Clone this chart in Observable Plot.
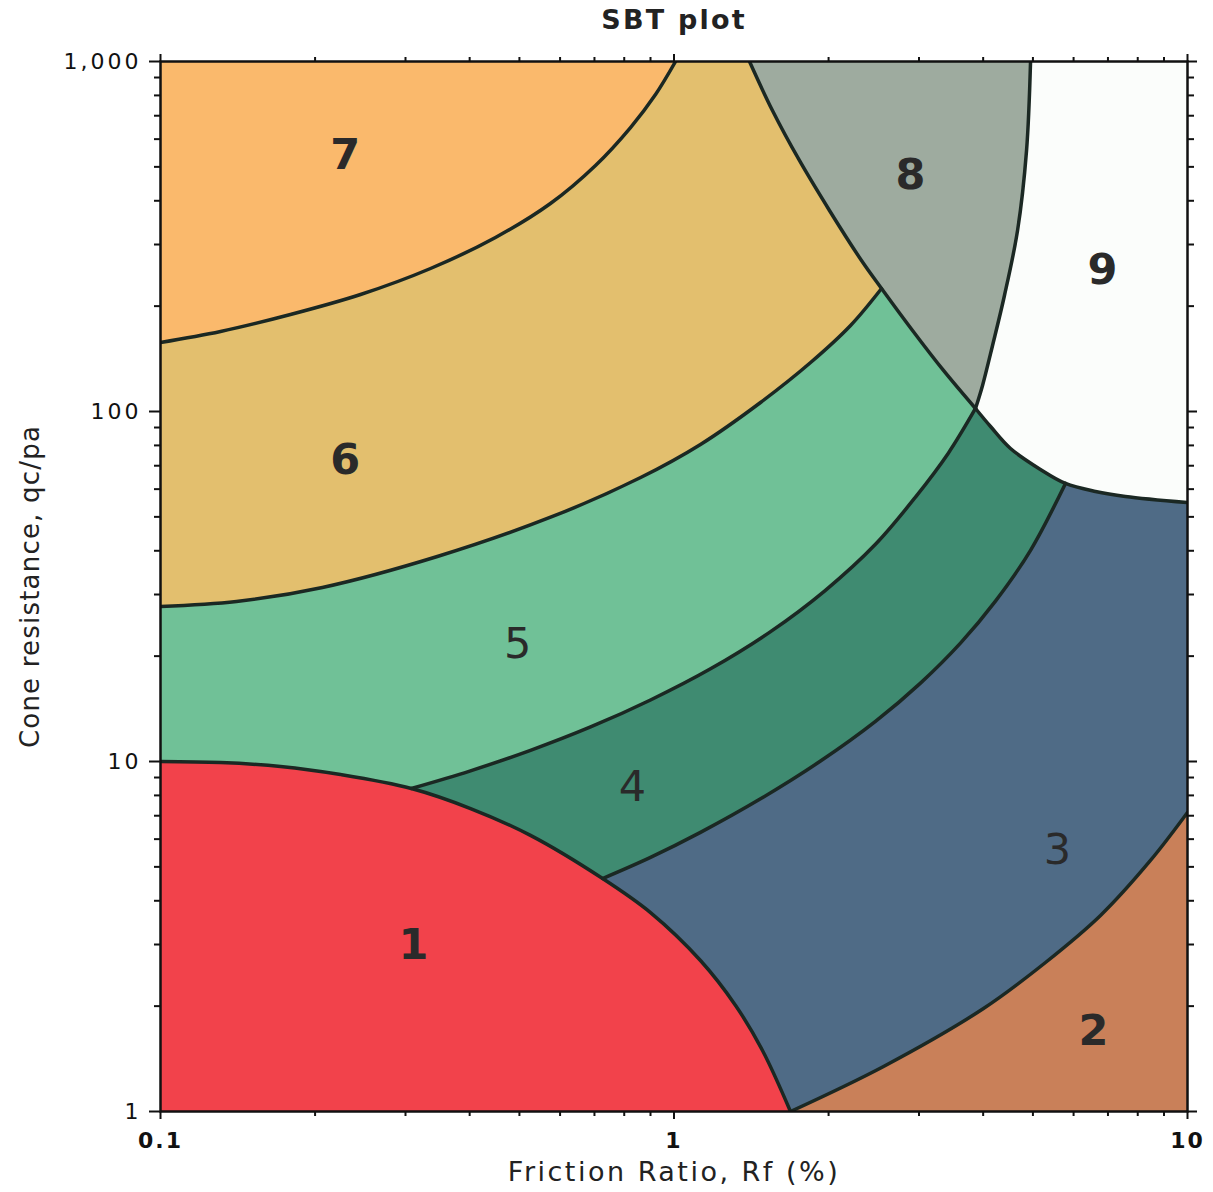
<!DOCTYPE html>
<html>
<head>
<meta charset="utf-8">
<script src="https://cdn.jsdelivr.net/npm/d3@7"></script>
<script src="https://cdn.jsdelivr.net/npm/@observablehq/plot@0.6"></script>
<style>
  html, body { margin: 0; padding: 0; background: #ffffff; }
  #chart { width: 1213px; height: 1192px; }
</style>
</head>
<body>
<div id="chart"></div>
<script>
// ---- Boundary curves: [Friction ratio Rf (%), qc/pa] ----
const b76 = [[0.1,157.5],[0.1309,169.3],[0.1791,189.3],[0.2452,215.9],[0.3356,256.2],[0.4491,314.2],[0.5746,392.9],[0.7033,504.6],[0.8228,647.7],[0.9205,804.6],[1.007,1000]];
const b65 = [[0.1,27.73],[0.1406,28.65],[0.2067,31.42],[0.346,38.52],[0.580,50.12],[0.861,64.77],[1.126,80.5],[1.474,106.1],[1.845,138.0],[2.207,176.1],[2.536,224.6]];
const b68 = [[1.403,1000],[1.555,724.4],[1.755,521.4],[2.008,375.3],[2.318,270.0],[2.536,224.6]];
const b58 = [[2.536,224.6],[2.914,170.4],[3.348,131.0],[3.865,102.0]];
const b89 = [[4.947,1000],[4.859,556.8],[4.667,328.9],[4.401,214.5],[4.172,154.4],[3.989,118.7],[3.865,102.0]];
const b94 = [[3.865,102.0],[4.135,90.6],[4.522,78.4],[5.172,68.3],[5.786,62.3]];
const b93 = [[5.786,62.3],[6.62,59.1],[7.57,57.2],[10,54.95]];
const b15 = [[0.1,10],[0.1309,9.93],[0.1713,9.68],[0.2241,9.18],[0.308,8.375]];
const b14 = [[0.308,8.375],[0.4016,7.34],[0.5254,6.15],[0.726,4.63]];
const b13 = [[0.726,4.63],[0.900,3.70],[1.126,2.70],[1.318,2.009],[1.487,1.494],[1.686,1]];
const b54 = [[0.308,8.375],[0.4015,9.407],[0.5254,10.76],[0.6879,12.55],[0.900,14.99],[1.178,18.40],[1.542,23.50],[1.972,30.84],[2.468,41.74],[2.953,56.94],[3.424,76.15],[3.865,102.0]];
const b43 = [[0.726,4.63],[0.900,5.321],[1.126,6.273],[1.474,7.823],[1.929,10.03],[2.468,13.02],[3.02,16.75],[3.613,21.79],[4.227,28.72],[4.947,40.13],[5.786,62.3]];
const b32 = [[1.686,1],[2.559,1.345],[4.006,1.969],[5.29,2.665],[6.77,3.631],[8.47,5.214],[10,7.15]];

// ---- Zones ----
const zoneIds    = ["1","2","3","4","5","6","7","8","9"];
const zoneColors = ["#f2424b","#c98059","#4f6b86","#3f8b71","#70c197","#e3bf6e","#fab96c","#9eab9f","#fbfdfb"];
const labelRf    = [0.311, 6.56, 5.58, 0.830, 0.496, 0.229, 0.229, 2.888, 6.83];
const labelQc    = [2.98, 1.70, 5.57, 8.43, 21.7, 72.4, 539, 472, 253];
const labelBold  = [true, true, false, false, false, true, true, true, true];

// ---- Axes ----
const xTicks = [0.1, 1, 10];
const xTickLabels = ["0.1", "1", "10"];
const yTicks = [1, 10, 100, 1000];
const yTickLabels = ["1", "10", "100", "1,000"];
const xMinor = [0.2,0.3,0.4,0.5,0.6,0.7,0.8,0.9,2,3,4,5,6,7,8,9];
const yMinor = [2,3,4,5,6,7,8,9,20,30,40,50,60,70,80,90,200,300,400,500,600,700,800,900];
const titleText = "SBT plot";
const xLabel = "Friction Ratio, Rf (%)";
const yLabel = "Cone resistance, qc/pa";

const rev = a => a.slice().reverse();
const polygons = {
  "7": [[0.1,1000], ...b76],
  "6": [...b65, ...rev(b68), ...rev(b76)],
  "8": [...b68, ...b58, ...rev(b89)],
  "9": [...b89, ...b94, ...b93, [10,1000]],
  "5": [...b15, ...b54, ...rev(b58), ...rev(b65)],
  "4": [...b14, ...b43, ...rev(b94), ...rev(b54)],
  "3": [...b13, ...b32, [10,54.95], ...rev(b93), ...rev(b43)],
  "2": [...b32, [10,1]],
  "1": [[0.1,1], ...b15, ...b14, ...b13]
};
const boundaries = [
  b76, b65, b54, b43, b32, b89,
  [...b68, ...b58.slice(1)],
  [...b94, ...b93.slice(1)],
  [...b15, ...b14.slice(1), ...b13.slice(1)]
];

const labels = zoneIds.map((id, i) => ({id, rf: labelRf[i], qc: labelQc[i], bold: labelBold[i]}));

const font = "DejaVu Sans, Verdana, sans-serif";
const edge = "#1b2823";

const fillMarks = zoneIds.map((id, i) =>
  Plot.line(polygons[id], {x: d => d[0], y: d => d[1], fill: zoneColors[i], stroke: zoneColors[i], strokeWidth: 1, clip: true})
);
const edgeMarks = boundaries.map(b =>
  Plot.line(b, {x: d => d[0], y: d => d[1], stroke: edge, strokeWidth: 3.5, curve: "catmull-rom", clip: true})
);

const chart = Plot.plot({
  width: 1213,
  height: 1192,
  marginLeft: 160,
  marginRight: 26,
  marginTop: 61,
  marginBottom: 81,
  style: {fontFamily: font, background: "#ffffff", color: "#111"},
  x: {type: "log", domain: [0.1, 10], axis: null},
  y: {type: "log", domain: [1, 1000], axis: null},
  marks: [
    ...fillMarks,
    ...edgeMarks,
    Plot.text(labels.filter(d => d.bold), {x: "rf", y: "qc", text: "id", fontSize: 43, fontWeight: "bold", fill: "#2a2a2a"}),
    Plot.text(labels.filter(d => !d.bold), {x: "rf", y: "qc", text: "id", fontSize: 43, fill: "#2a2a2a"}),
    Plot.frame({stroke: "#111", strokeWidth: 2.5}),
    // bottom axis
    Plot.axisX(xTicks, {anchor: "bottom", tickSize: 8, tickPadding: 13, strokeWidth: 2, fontSize: 22, fontWeight: "bold", tickFormat: d => xTickLabels[xTicks.indexOf(d)], label: null}),
    Plot.axisX(xMinor, {anchor: "bottom", tickSize: 5, strokeWidth: 2, tickFormat: () => "", label: null}),
    // top axis
    Plot.axisX(xTicks, {anchor: "top", tickSize: 8, strokeWidth: 2, tickFormat: () => "", label: null}),
    Plot.axisX(xMinor, {anchor: "top", tickSize: 5, strokeWidth: 2, tickFormat: () => "", label: null}),
    // left axis
    Plot.axisY(yTicks, {anchor: "left", tickSize: 11, tickPadding: 8, strokeWidth: 2, fontSize: 22, tickFormat: d => yTickLabels[yTicks.indexOf(d)], label: null}),
    Plot.axisY(yMinor, {anchor: "left", tickSize: 6, strokeWidth: 2, tickFormat: () => "", label: null}),
    // right axis
    Plot.axisY(yTicks, {anchor: "right", tickSize: 9, strokeWidth: 2, tickFormat: () => "", label: null}),
    Plot.axisY(yMinor, {anchor: "right", tickSize: 6, strokeWidth: 2, tickFormat: () => "", label: null}),
    // titles
    Plot.text([titleText], {frameAnchor: "top", dy: -41, lineAnchor: "middle", text: d => d, fontSize: 27, fontWeight: "bold", fill: "#222"}),
    Plot.text([xLabel], {frameAnchor: "bottom", dy: 61, lineAnchor: "middle", text: d => d, fontSize: 27, fill: "#222"}),
    Plot.text([yLabel], {frameAnchor: "left", dx: -130, rotate: -90, textAnchor: "middle", lineAnchor: "middle", text: d => d, fontSize: 26, fill: "#222"})
  ]
});
document.getElementById("chart").appendChild(chart);

// letter spacing to mimic the wide original typeface
const spacing = new Map([[titleText, "2.2px"], [xLabel, "2.5px"], [yLabel, "1.2px"]]);
d3.select(chart).selectAll("text").each(function() {
  const t = this.textContent;
  const g = this.closest("g[aria-label]");
  const role = g ? g.getAttribute("aria-label") : "";
  if (spacing.has(t)) this.style.letterSpacing = spacing.get(t);
  else if (/x-axis/.test(role) && xTickLabels.includes(t)) this.style.letterSpacing = "2px";
  else if (/y-axis/.test(role) && yTickLabels.includes(t)) this.style.letterSpacing = "3px";
});
</script>
</body>
</html>
